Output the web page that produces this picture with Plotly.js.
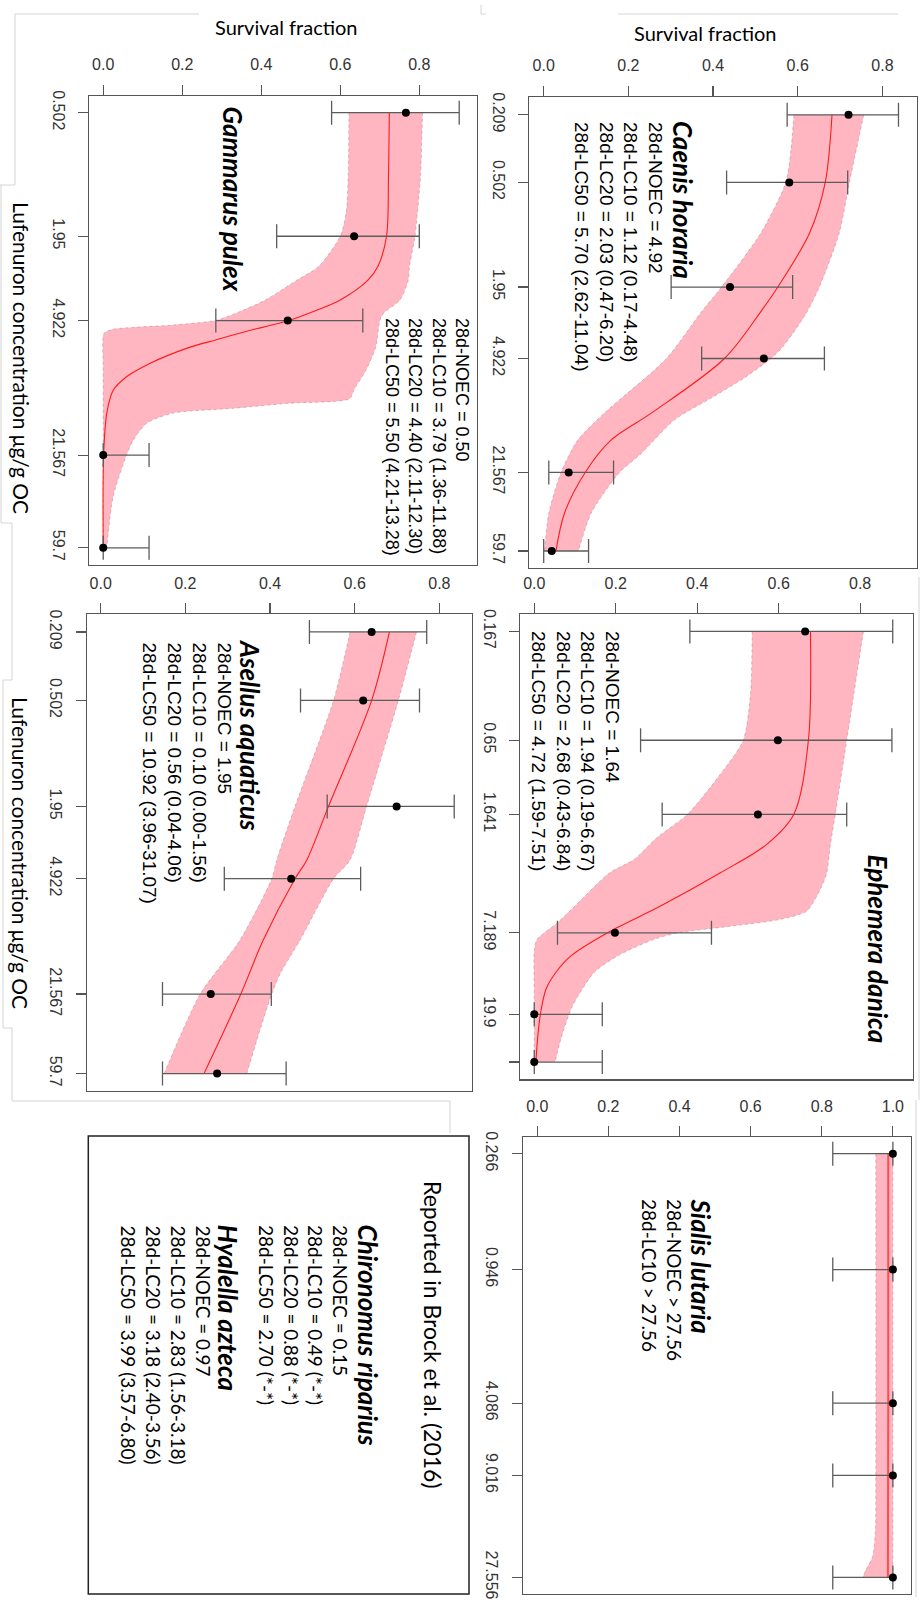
<!DOCTYPE html>
<html><head><meta charset="utf-8">
<script src="https://cdn.plot.ly/plotly-3.0.1.min.js"></script>
<style>html,body{margin:0;padding:0;background:#fff}</style>
</head><body><div id="chart" style="width:922px;height:1602px"></div>
<script>
// ================= DATA =================
// Gammarus pulex
const gamConc = [0.502, 1.95, 4.922, 21.567, 59.7];
const gamTickLabels = ['0.502', '1.95', '4.922', '21.567', '59.7'];
const gamSurv = [0.766, 0.635, 0.467, 0.0, 0.0];
const gamLow = [0.578, 0.439, 0.285, 0.0, 0.0];
const gamHigh = [0.901, 0.800, 0.657, 0.116, 0.116];
const gamFitConc = [0.502, 1.0, 1.95, 2.72, 3.16, 3.93, 4.4, 4.922, 5.46, 6.09, 6.68, 7.88, 9.12, 10.6, 13.6, 21.567, 59.7];
const gamFit = [0.724, 0.722, 0.717, 0.695, 0.67, 0.60, 0.54, 0.47, 0.375, 0.284, 0.211, 0.118, 0.059, 0.025, 0.009, 0.001, 0.0];
const gamBandLoConc = [0.502, 1.0, 1.5, 1.95, 2.72, 3.16, 3.93, 4.55, 4.922, 5.17, 5.42, 5.67, 8.0, 15.0, 30.0, 59.7];
const gamBandLo = [0.622, 0.62, 0.615, 0.60, 0.545, 0.49, 0.41, 0.335, 0.283, 0.177, 0.025, 0.002, 0.0, 0.0, 0.0, 0.0];
const gamBandHiConc = [0.502, 1.0, 1.95, 2.72, 3.16, 3.93, 4.55, 4.922, 6.56, 8.5, 10.5, 11.6, 12.2, 12.9, 13.6, 15.2, 18.3, 21.567, 34.1, 59.7];
const gamBandHi = [0.808, 0.803, 0.789, 0.775, 0.772, 0.751, 0.709, 0.70, 0.69, 0.665, 0.635, 0.624, 0.47, 0.33, 0.177, 0.11, 0.076, 0.059, 0.025, 0.009];

// Caenis horaria
const caeConc = [0.209, 0.502, 1.95, 4.922, 21.567, 59.7];
const caeTickLabels = ['0.209', '0.502', '1.95', '4.922', '21.567', '59.7'];
const caeSurv = [0.720, 0.580, 0.440, 0.520, 0.059, 0.019];
const caeLow = [0.575, 0.432, 0.301, 0.373, 0.012, 0.0];
const caeHigh = [0.838, 0.718, 0.588, 0.663, 0.165, 0.106];
const caeFitConc = [0.209, 0.502, 0.968, 1.95, 2.74, 4.922, 10.0, 14.2, 21.567, 36.6, 59.7];
const caeFit = [0.681, 0.665, 0.628, 0.553, 0.51, 0.427, 0.254, 0.159, 0.098, 0.049, 0.029];
const caeBandLoConc = [0.209, 0.33, 0.502, 0.968, 1.95, 2.74, 4.922, 10.0, 14.2, 21.567, 36.6, 59.7];
const caeBandLo = [0.591, 0.584, 0.572, 0.513, 0.42, 0.37, 0.29, 0.143, 0.080, 0.041, 0.012, 0.002];
const caeBandHiConc = [0.209, 0.502, 0.968, 1.95, 2.74, 4.23, 4.922, 6.51, 8.44, 10.9, 16.9, 21.567, 36.6, 59.7];
const caeBandHi = [0.756, 0.722, 0.698, 0.651, 0.62, 0.565, 0.537, 0.466, 0.387, 0.309, 0.230, 0.179, 0.112, 0.082];

// Asellus aquaticus
const aseConc = [0.209, 0.502, 1.95, 4.922, 21.567, 59.7];
const aseTickLabels = ['0.209', '0.502', '1.95', '4.922', '21.567', '59.7'];
const aseSurv = [0.640, 0.620, 0.699, 0.450, 0.260, 0.275];
const aseLow = [0.493, 0.472, 0.535, 0.292, 0.146, 0.146];
const aseHigh = [0.770, 0.753, 0.835, 0.614, 0.403, 0.438];
const aseFitConc = [0.209, 0.502, 1.95, 3.87, 4.922, 10.8, 21.567, 59.7];
const aseFit = [0.682, 0.640, 0.538, 0.487, 0.459, 0.384, 0.331, 0.244];
const aseBandLoConc = [0.209, 0.502, 1.95, 3.87, 4.922, 10.8, 21.567, 59.7];
const aseBandLo = [0.589, 0.550, 0.459, 0.416, 0.404, 0.329, 0.235, 0.150];
const aseBandHiConc = [0.209, 0.502, 1.95, 3.87, 4.922, 10.8, 16.6, 21.567, 38.8, 59.7];
const aseBandHi = [0.746, 0.703, 0.628, 0.589, 0.550, 0.471, 0.424, 0.404, 0.369, 0.345];

// Ephemera danica
const ephConc = [0.167, 0.65, 1.641, 7.189, 19.9, 36.1];
const ephTickLabels = ['0.167', '0.65', '1.641', '7.189', '19.9', ''];
const ephSurv = [0.665, 0.598, 0.549, 0.198, 0.0, 0.0];
const ephLow = [0.382, 0.261, 0.314, 0.057, 0.0, 0.0];
const ephHigh = [0.880, 0.878, 0.767, 0.435, 0.167, 0.167];
const ephFitConc = [0.167, 0.65, 1.641, 2.39, 3.40, 5.15, 7.189, 9.6, 11.8, 14.5, 19.9, 27.2, 36.1];
const ephFit = [0.678, 0.673, 0.637, 0.57, 0.457, 0.310, 0.180, 0.090, 0.053, 0.029, 0.015, 0.008, 0.004];
const ephBandLoConc = [0.167, 0.36, 0.65, 1.02, 1.641, 2.2, 2.88, 3.40, 5.15, 6.34, 7.8, 9.0, 15.0, 25.0, 36.1];
const ephBandLo = [0.535, 0.531, 0.513, 0.453, 0.376, 0.30, 0.245, 0.185, 0.10, 0.057, 0.007, 0.0, 0.0, 0.0, 0.0];
const ephBandHiConc = [0.167, 0.65, 1.641, 2.39, 3.40, 4.18, 5.48, 6.08, 6.66, 7.15, 7.80, 9.6, 11.8, 17.9, 27.2, 36.1];
const ephBandHi = [0.808, 0.767, 0.739, 0.727, 0.718, 0.702, 0.669, 0.604, 0.473, 0.359, 0.294, 0.204, 0.147, 0.094, 0.065, 0.051];

// Sialis lutaria
const siaConc = [0.266, 0.946, 4.086, 9.016, 27.556];
const siaTickLabels = ['0.266', '0.946', '4.086', '9.016', '27.556'];
const siaSurv = [1.0, 1.0, 1.0, 1.0, 1.0];
const siaLow = [0.831, 0.831, 0.831, 0.831, 0.831];
const siaHigh = [1.0, 1.0, 1.0, 1.0, 1.0];
const siaFitConc = [0.266, 4.086, 27.556];
const siaFit = [0.987, 0.987, 0.986];
const siaBandLoConc = [0.266, 9.016, 16.4, 22.0, 25.4, 27.556];
const siaBandLo = [0.952, 0.952, 0.951, 0.943, 0.924, 0.915];
const siaBandHiConc = [0.266, 27.556];
const siaBandHi = [1.0, 1.0];

// Text
const survTicks = [0, 0.2, 0.4, 0.6, 0.8];
const survTicksSialis = [0, 0.2, 0.4, 0.6, 0.8, 1.0];
const xTitle = 'Survival fraction';
const yTitle = 'Lufenuron concentration μg/g OC';
const gamStats = ['28d-NOEC = 0.50', '28d-LC10 = 3.79 (1.36-11.88)', '28d-LC20 = 4.40 (2.11-12.30)', '28d-LC50 = 5.50 (4.21-13.28)'];
const caeStats = ['28d-NOEC = 4.92', '28d-LC10 = 1.12 (0.17-4.48)', '28d-LC20 = 2.03 (0.47-6.20)', '28d-LC50 = 5.70 (2.62-11.04)'];
const aseStats = ['28d-NOEC = 1.95', '28d-LC10 = 0.10 (0.00-1.56)', '28d-LC20 = 0.56 (0.04-4.06)', '28d-LC50 = 10.92 (3.96-31.07)'];
const ephStats = ['28d-NOEC = 1.64', '28d-LC10 = 1.94 (0.19-6.67)', '28d-LC20 = 2.68 (0.43-6.84)', '28d-LC50 = 4.72 (1.59-7.51)'];
const siaStats = ['28d-NOEC > 27.56', '28d-LC10 > 27.56'];
const chiStats = ['28d-NOEC = 0.15', '28d-LC10 = 0.49 (*-*)', '28d-LC20 = 0.88 (*-*)', '28d-LC50 = 2.70 (*-*)'];
const hyaStats = ['28d-NOEC = 0.97', '28d-LC10 = 2.83 (1.56-3.18)', '28d-LC20 = 3.18 (2.40-3.56)', '28d-LC50 = 3.99 (3.57-6.80)'];
const reportedText = 'Reported in Brock et al. (2016)';

// ================= LAYOUT HELPERS =================
const W = 922, H = 1602;
const px = v => v / W;
const py = v => 1 - v / H;
const ARIAL = 'Liberation Sans, Arial, Helvetica, sans-serif';
const CAL = 'Lato, Carlito, Calibri, sans-serif';

const panels = [
  {sfx: '',  box: [89, 96, 477, 565],        xr: [-0.036, 0.946], yr: [1.858, -0.379],
   conc: gamConc, tl: gamTickLabels, surv: gamSurv, low: gamLow, high: gamHigh,
   fc: gamFitConc, f: gamFit, lc: gamBandLoConc, l: gamBandLo, hc: gamBandHiConc, h: gamBandHi, xt: survTicks},
  {sfx: '2', box: [529.3, 97, 916.7, 567.7],  xr: [-0.034, 0.881], yr: [1.870, -0.780],
   conc: caeConc, tl: caeTickLabels, surv: caeSurv, low: caeLow, high: caeHigh,
   fc: caeFitConc, f: caeFit, lc: caeBandLoConc, l: caeBandLo, hc: caeBandHiConc, h: caeBandHi, xt: survTicks},
  {sfx: '3', box: [86.7, 614.3, 472, 1090.7], xr: [-0.033, 0.877], yr: [1.871, -0.778],
   conc: aseConc, tl: aseTickLabels, surv: aseSurv, low: aseLow, high: aseHigh,
   fc: aseFitConc, f: aseFit, lc: aseBandLoConc, l: aseBandLo, hc: aseBandHiConc, h: aseBandHi, xt: survTicks},
  {sfx: '4', box: [520, 614.3, 912.7, 1079.3], xr: [-0.035, 0.929], yr: [1.651, -0.870],
   conc: ephConc, tl: ephTickLabels, surv: ephSurv, low: ephLow, high: ephHigh,
   fc: ephFitConc, f: ephFit, lc: ephBandLoConc, l: ephBandLo, hc: ephBandHiConc, h: ephBandHi, xt: survTicks},
  {sfx: '5', box: [522.7, 1137.3, 911, 1594], xr: [-0.041, 1.051], yr: [1.519, -0.653],
   conc: siaConc, tl: siaTickLabels, surv: siaSurv, low: siaLow, high: siaHigh,
   fc: siaFitConc, f: siaFit, lc: siaBandLoConc, l: siaBandLo, hc: siaBandHiConc, h: siaBandHi, xt: survTicksSialis}
];

const data = [];
const layout = {
  width: W, height: H, margin: {l: 0, r: 0, t: 0, b: 0},
  paper_bgcolor: '#fff', plot_bgcolor: '#fff', showlegend: false,
  annotations: [], shapes: []
};

const edgeLine = {shape: 'spline', smoothing: 0.7, color: 'rgba(175,125,135,0.6)', width: 0.8, dash: 'dot'};

panels.forEach(p => {
  const xa = 'x' + p.sfx, ya = 'y' + p.sfx;
  data.push({type: 'scatter', x: p.l, y: p.lc, xaxis: xa, yaxis: ya, mode: 'lines',
             line: edgeLine, hoverinfo: 'skip'});
  data.push({type: 'scatter', x: p.h, y: p.hc, xaxis: xa, yaxis: ya, mode: 'lines',
             line: edgeLine, fill: 'tonextx', fillcolor: '#FFB6C1', hoverinfo: 'skip'});
  data.push({type: 'scatter', x: p.f, y: p.fc, xaxis: xa, yaxis: ya, mode: 'lines',
             line: {shape: 'spline', smoothing: 0.9, color: p.sfx === '5' ? 'rgba(255,40,40,0.75)' : '#FF1A1A', width: p.sfx === '5' ? 2 : 1.1},
             hoverinfo: 'skip'});
  data.push({type: 'scatter', x: p.surv, y: p.conc, xaxis: xa, yaxis: ya, mode: 'markers',
             marker: {color: '#000', size: 8},
             error_x: {type: 'data', symmetric: false,
                       array: p.high.map((v, k) => v - p.surv[k]),
                       arrayminus: p.surv.map((v, k) => v - p.low[k]),
                       color: '#5c5c5c', thickness: 1.3, width: 12},
             hoverinfo: 'skip'});
  layout['xaxis' + p.sfx] = {
    domain: [px(p.box[0]), px(p.box[2])], range: p.xr, side: 'top', anchor: ya,
    showgrid: false, zeroline: false, showline: true, mirror: true,
    linecolor: '#555', linewidth: 1.2, ticks: 'outside', ticklen: 10, tickwidth: 1.2, tickcolor: '#555',
    tickvals: p.xt, tickformat: '.1f', tickfont: {family: ARIAL, size: 16, color: '#333'},
    ticklabelstandoff: 8, fixedrange: true
  };
  layout['yaxis' + p.sfx] = {
    domain: [py(p.box[3]), py(p.box[1])], type: 'log', range: p.yr, anchor: xa, side: 'left',
    showgrid: false, zeroline: false, showline: true, mirror: true,
    linecolor: '#555', linewidth: 1.2, ticks: 'outside', ticklen: 10, tickwidth: 1.2, tickcolor: '#555',
    tickvals: p.conc, ticktext: p.tl, tickangle: 90, tickfont: {family: ARIAL, size: 16, color: '#333'},
    ticklabelstandoff: 6, fixedrange: true
  };
});

function ann(text, x, yTop, font, extra) {
  layout.annotations.push(Object.assign({
    text: text, xref: 'paper', yref: 'paper', x: px(x), y: py(yTop),
    xanchor: 'center', yanchor: 'top', textangle: 90, align: 'left',
    showarrow: false, font: font
  }, extra || {}));
}
const spFont = {family: CAL, size: 26, color: '#000'};
const arFont = s => ({family: ARIAL, size: s, color: '#000'});
const calFont = s => ({family: CAL, size: s, color: '#000'});

// Axis titles
layout.annotations.push({text: xTitle, xref: 'paper', yref: 'paper', x: px(286), y: py(27), xanchor: 'center', yanchor: 'middle', showarrow: false, font: calFont(20)});
layout.annotations.push({text: xTitle, xref: 'paper', yref: 'paper', x: px(705), y: py(33), xanchor: 'center', yanchor: 'middle', showarrow: false, font: calFont(20)});
ann(yTitle, 21, 200, calFont(21));
ann(yTitle, 21, 695, calFont(21));

// Species names and statistics
ann('<b><i>Gammarus pulex</i></b>', 233, 104, spFont);
ann(gamStats.join('<br>'), 427, 316, arFont(18));
ann('<b><i>Caenis horaria</i></b>', 683, 119, spFont);
ann(caeStats.join('<br>'), 618.5, 120, arFont(19));
ann('<b><i>Asellus aquaticus</i></b>', 250, 637, spFont);
ann(aseStats.join('<br>'), 187, 640, arFont(19));
ann(ephStats.join('<br>'), 575, 629, arFont(19));
ann('<b><i>Ephemera danica</i></b>', 878, 852, spFont);
ann('<b><i>Sialis lutaria</i></b>', 701, 1196, spFont);
ann(siaStats.join('<br>'), 662, 1197, calFont(19));

// Text box
ann(reportedText, 433, 1179, calFont(23));
ann('<b><i>Chironomus riparius</i></b>', 368, 1222, spFont);
ann(chiStats.join('<br>'), 304, 1223, calFont(19));
ann('<b><i>Hyalella azteca</i></b>', 228, 1222, spFont);
ann(hyaStats.join('<br>'), 166, 1223, calFont(19));

layout.shapes.push({type: 'rect', xref: 'paper', yref: 'paper', x0: px(88.3), x1: px(469), y0: py(1594), y1: py(1136),
                    line: {color: '#222', width: 1.5}});

// faint slide-border remnants
const faint = {color: '#d4d4d4', width: 1};
const segs = [
  [15, 14, 199, 14], [15, 14, 15, 185], [0, 185, 15, 185], [1, 185, 1, 523], [1, 523, 12, 523], [12, 523, 12, 680],
  [3, 680, 12, 680], [3, 680, 3, 1028], [3, 1028, 12, 1028], [12, 1028, 12, 1101], [12, 1101, 450, 1101], [450, 1101, 450, 1133],
  [618, 14, 898, 14], [481, 5, 481, 14], [481, 14, 486, 14], [919, 577, 919, 1100], [916, 1100, 916, 1597]
];
segs.forEach(s => layout.shapes.push({type: 'line', xref: 'paper', yref: 'paper',
  x0: px(s[0]), y0: py(s[1]), x1: px(s[2]), y1: py(s[3]), line: faint}));

Plotly.newPlot('chart', data, layout, {staticPlot: true, displayModeBar: false});
</script></body></html>
